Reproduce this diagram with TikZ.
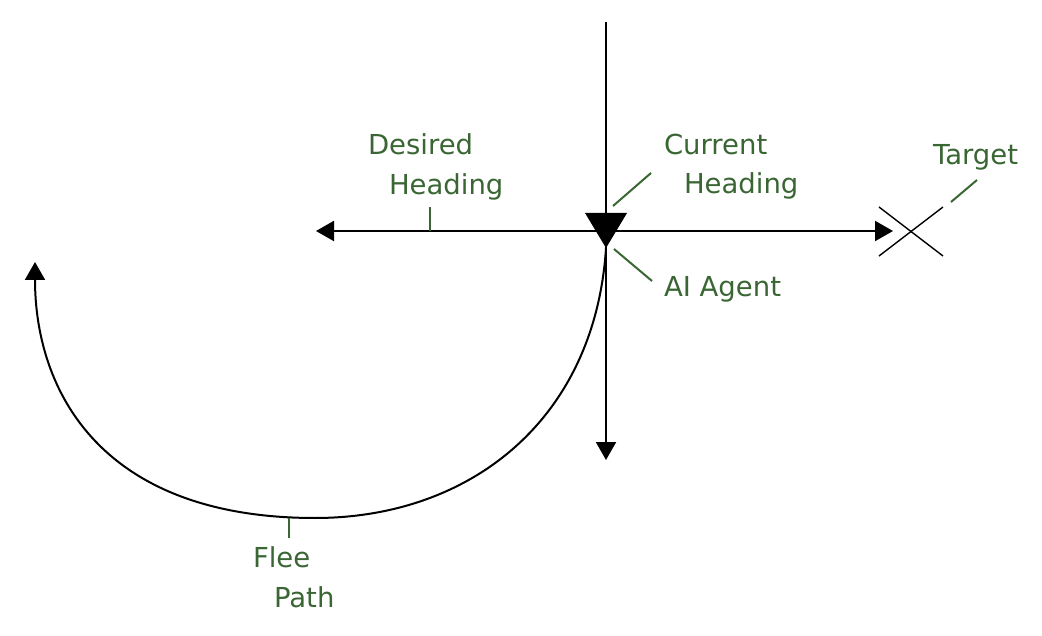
\documentclass[tikz,border=0pt]{standalone}
\usepackage{fontspec}
\setmainfont{DejaVu Sans}
\usetikzlibrary{arrows.meta}
\definecolor{labelgreen}{RGB}{58,102,52}
\tikzset{
  lbl/.style={anchor=base west,inner sep=0pt,text=labelgreen,font=\fontsize{27.5}{33}\selectfont},
  lead/.style={draw=labelgreen,line width=2pt},
  tip/.style={-{Triangle[length=18pt,width=20pt]}}
}
\begin{document}
\begin{tikzpicture}[x=1pt,y=-1pt,line width=2pt]
    \useasboundingbox (0,0) rectangle (1042,636);
    \coordinate (agent) at (606,231);
    \coordinate (apex) at (606,248);
    \coordinate (top) at (606,22);
    \coordinate (down) at (606,460);
    \coordinate (left) at (316,231);
    \coordinate (target) at (911,231);
    \coordinate (right) at (893,231);
    \coordinate (low) at (315,518);
    \coordinate (flee) at (35,262);
    \draw (top)--(agent);
    \draw[tip] (agent)--(down);
    \draw[tip] (agent)--(left);
    \draw[tip] (agent)--(right);
    \draw[line width=1.4pt] (target)++(-32,-24)--++(64,49);
    \draw[line width=1.4pt] (target)++(-32,25)--++(64,-49);
    \fill (585,213)--(627,213)--(apex)--cycle;
    \draw[tip] (apex) .. controls (595,420) and (470,518) .. (low)
                      .. controls (100,518) and (35,390) .. (flee);
    \node[lbl] (des1) at (367,155) {Desired};
    \node[lbl] (des2) at (388,195) {Heading};
    \node[lbl] (cur1) at (663,155) {Current};
    \node[lbl] (cur2) at (683,194) {Heading};
    \node[lbl] (tgt) at (932,165) {Target};
    \node[lbl] (ai) at (663,297) {AI Agent};
    \node[lbl] (flee1) at (252,567) {Flee};
    \node[lbl] (flee2) at (273,607) {Path};
    \draw[lead] (430,207)--(430,231);
    \draw[lead] (613,206)--(651,173);
    \draw[lead] (614,249)--(652,281);
    \draw[lead] (951,202)--(977,180);
    \draw[lead] (289,518)--(289,538);
\end{tikzpicture}
\end{document}
